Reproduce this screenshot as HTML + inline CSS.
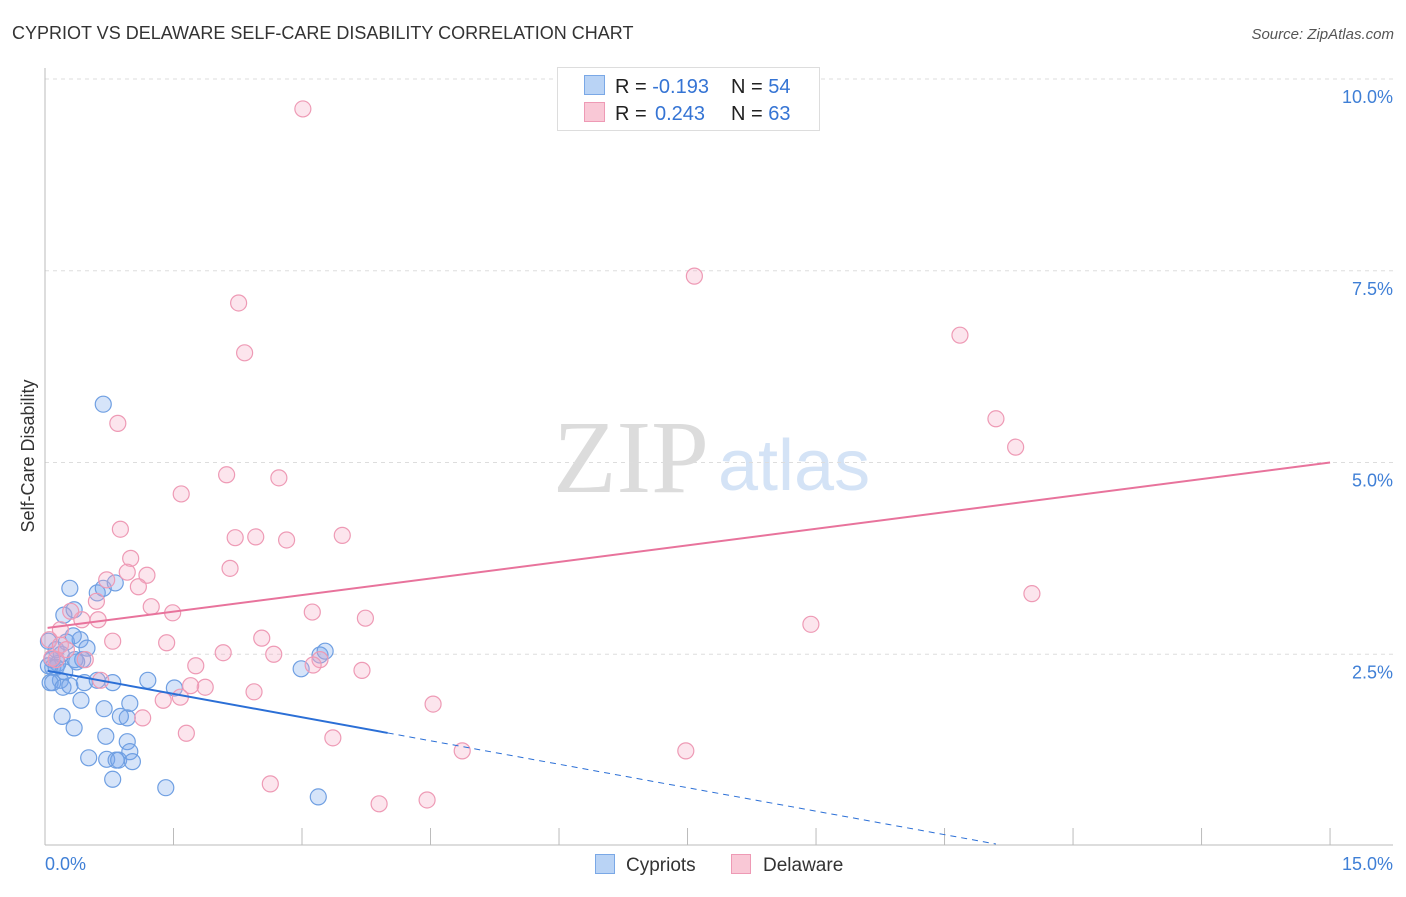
<!DOCTYPE html>
<html><head><meta charset="utf-8"><style>
body{margin:0;background:#fff;font-family:"Liberation Sans",sans-serif;}
</style></head><body>
<svg id="chart" width="1406" height="892" viewBox="0 0 1406 892" font-family="Liberation Sans, sans-serif">
<text x="12" y="39" font-size="18" fill="#333">CYPRIOT VS DELAWARE SELF-CARE DISABILITY CORRELATION CHART</text>
<text x="1394" y="39" font-size="15" font-style="italic" fill="#555" text-anchor="end">Source: ZipAtlas.com</text>
<text x="553" y="492" font-size="104" style="font-family:'Liberation Serif',serif" fill="#dcdcdc">ZIP</text>
<text x="718" y="490" font-size="72" fill="#d4e3f6">atlas</text>
<text transform="translate(34,456) rotate(-90)" font-size="18" fill="#333" text-anchor="middle">Self-Care Disability</text>
<g id="grid"></g><g id="axes"></g><g id="pts"></g><g id="lines"></g>
<g>
<rect x="557.5" y="67.5" width="262" height="63" fill="#fff" stroke="#ddd"/>
<rect x="584.5" y="75.5" width="20" height="19" fill="#b9d3f5" stroke="#7aa8e6"/>
<rect x="584.5" y="102.5" width="20" height="19" fill="#f9c8d6" stroke="#ee9ab5"/>
<text x="615" y="93" font-size="20" fill="#222">R = <tspan fill="#3574d4">-0.193</tspan></text>
<text x="731" y="93" font-size="20" fill="#222">N = <tspan fill="#3574d4">54</tspan></text>
<text x="615" y="120" font-size="20" fill="#222">R = <tspan fill="#3574d4" x="655">0.243</tspan></text>
<text x="731" y="120" font-size="20" fill="#222">N = <tspan fill="#3574d4">63</tspan></text>
</g>
<g>
<rect x="595.5" y="854.5" width="19" height="19" fill="#b9d3f5" stroke="#7aa8e6"/>
<text x="626" y="871" font-size="19" fill="#333">Cypriots</text>
<rect x="731.5" y="854.5" width="19" height="19" fill="#f9c8d6" stroke="#ee9ab5"/>
<text x="763" y="871" font-size="19" fill="#333">Delaware</text>
</g>
</svg>
<script>
const yTicks=[2.5,5,7.5,10];
const yTickLabels=["2.5%","5.0%","7.5%","10.0%"];
const xTicks=[0,1.5,3,4.5,6,7.5,9,10.5,12,13.5,15];
const blueX=[0.68,0.04,0.08,0.13,0.09,0.15,0.19,0.25,0.29,0.22,0.34,0.41,0.49,0.35,0.44,0.18,0.06,0.09,0.21,0.29,0.46,0.61,0.79,0.61,0.68,0.82,0.20,0.34,0.42,0.69,0.71,0.51,0.72,0.83,0.86,0.88,0.96,0.99,0.96,0.99,1.02,0.79,1.20,1.51,1.41,2.99,3.21,3.27,3.19,0.04,0.13,0.33,0.23,0.37];
const blueY=[5.76,2.67,2.43,2.56,2.33,2.38,2.50,2.66,3.36,3.01,3.08,2.69,2.58,2.43,2.43,2.16,2.13,2.13,2.07,2.09,2.13,2.16,2.13,3.30,3.36,3.43,1.69,1.54,1.90,1.79,1.43,1.15,1.13,1.12,1.12,1.69,1.67,1.86,1.36,1.23,1.10,0.87,2.16,2.06,0.76,2.31,2.49,2.54,0.64,2.35,2.33,2.74,2.27,2.40];
const pinkX=[3.01,7.58,2.26,2.33,10.68,0.85,11.10,11.33,2.12,2.73,1.59,0.88,2.22,2.46,2.82,3.47,1.00,2.16,1.19,0.96,1.09,0.72,0.60,1.24,1.49,3.12,3.74,11.52,8.94,0.43,0.62,0.30,0.79,1.42,2.53,2.08,2.67,0.05,0.18,0.25,0.47,0.13,0.65,1.76,1.87,1.70,3.21,3.13,3.70,2.44,1.58,1.38,1.14,4.53,1.65,3.36,4.87,7.48,2.63,3.90,4.46,0.18,0.08];
const pinkY=[9.61,7.43,7.08,6.43,6.66,5.51,5.57,5.20,4.84,4.80,4.59,4.13,4.02,4.03,3.99,4.05,3.75,3.62,3.53,3.57,3.38,3.47,3.19,3.12,3.04,3.05,2.97,3.29,2.89,2.95,2.95,3.06,2.67,2.65,2.71,2.52,2.50,2.69,2.62,2.56,2.43,2.43,2.16,2.35,2.07,2.09,2.43,2.36,2.29,2.01,1.94,1.90,1.67,1.85,1.47,1.41,1.24,1.24,0.81,0.55,0.60,2.82,2.45];
const blueFit=[2.29,-0.204], pinkFit=[2.84,0.144];
const xs=v=>45+v*85.67, ys=v=>846-v*76.7;
const NS="http://www.w3.org/2000/svg";
function mk(p,t,a){const e=document.createElementNS(NS,t);for(const k in a)e.setAttribute(k,a[k]);document.getElementById(p).appendChild(e);return e;}
yTicks.forEach((t,i)=>{
 const l=mk('grid','line',{x1:45,x2:1393,y1:ys(t),y2:ys(t),stroke:'#ddd','stroke-dasharray':'4,4'});
 
 
 const tx=mk('grid','text',{x:1393,y:ys(t)+24,'font-size':18,fill:'#3f7fd6','text-anchor':'end'});
 tx.textContent=yTickLabels[i];
 
 
});
const yl=mk('axes','line',{x1:45,x2:45,y1:68,y2:845,stroke:'#bbb'});


const xl=mk('axes','line',{x1:45,x2:1393,y1:845,y2:845,stroke:'#bbb'});


xTicks.forEach(t=>{
 const l=mk('axes','line',{x1:xs(t),x2:xs(t),y1:828,y2:845,stroke:'#bbb'});
 
 
});
[[0,'0.0%','start',45],[15,'15.0%','end',1393]].forEach(d=>{
 const tx=mk('axes','text',{x:d[3],y:870,'font-size':18,fill:'#3f7fd6','text-anchor':d[2]});
 tx.textContent=d[1];
 
 
});
blueX.forEach((x,i)=>{
 const c=mk('pts','circle',{cx:xs(x),cy:ys(blueY[i]),r:8,fill:'rgba(120,165,235,0.3)',stroke:'#6f9fe2','stroke-width':1.2});
 
 
});
pinkX.forEach((x,i)=>{
 const c=mk('pts','circle',{cx:xs(x),cy:ys(pinkY[i]),r:8,fill:'rgba(245,170,195,0.3)',stroke:'#ee9ab5','stroke-width':1.2});
 
 
});
const bf=x=>blueFit[0]+blueFit[1]*x, pf=x=>pinkFit[0]+pinkFit[1]*x;
const b1=mk('lines','line',{x1:xs(0.03),y1:ys(bf(0.03)),x2:xs(4),y2:ys(bf(4)),stroke:'#2b6fd6','stroke-width':2});


const b2=mk('lines','line',{x1:xs(4),y1:ys(bf(4)),x2:xs(11.1),y2:ys(bf(11.1)),stroke:'#2b6fd6','stroke-width':1,'stroke-dasharray':'6,5'});


const p1=mk('lines','line',{x1:xs(0.03),y1:ys(pf(0.03)),x2:xs(15),y2:ys(pf(15)),stroke:'#e8739c','stroke-width':2});


</script>
</body></html>
